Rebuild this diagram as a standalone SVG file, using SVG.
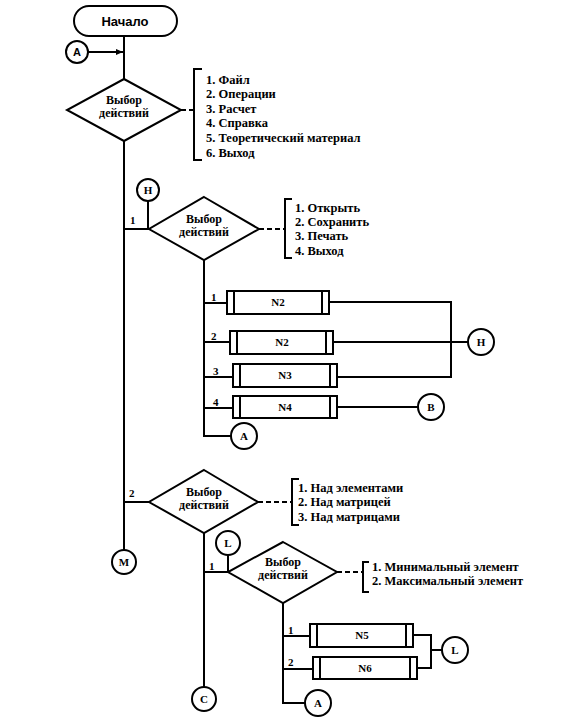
<svg xmlns="http://www.w3.org/2000/svg" width="571" height="721" viewBox="0 0 571 721">
<defs>
<style>
.ln{stroke:#000;stroke-width:2;fill:none}
.dash{stroke:#000;stroke-width:2;fill:none;stroke-dasharray:5,3}
.shape{stroke:#000;stroke-width:2;fill:#fff}
.t{font-family:"Liberation Serif","Times New Roman",serif;font-weight:bold;font-size:11px;fill:#000}
.d{font-size:12px}
.m{font-size:12.5px}
.c{text-anchor:middle}
.s{font-family:"Liberation Sans",Arial,sans-serif;font-weight:bold;fill:#000;text-anchor:middle}
</style>
<marker id="arr" markerWidth="8" markerHeight="8" refX="7" refY="4" orient="auto" markerUnits="userSpaceOnUse">
<path d="M0,1 L7,4 L0,7 Z" fill="#000"/>
</marker>
</defs>
<rect width="571" height="721" fill="#fff"/>
<g id="connectors">
<line class="ln" x1="124" y1="36" x2="124" y2="79"/>
<line class="ln" x1="88" y1="52" x2="123" y2="52" marker-end="url(#arr)"/>
<line class="ln" x1="124" y1="141" x2="124" y2="550"/>
<line class="dash" x1="181" y1="110" x2="194" y2="110"/>
<polyline class="ln" points="202,69 194,69 194,160 202,160"/>
<line class="ln" x1="124" y1="229" x2="149" y2="229"/>
<line class="ln" x1="148" y1="201" x2="148" y2="229"/>
<line class="dash" x1="259" y1="229" x2="285" y2="229"/>
<polyline class="ln" points="292,199 285,199 285,258 292,258"/>
<polyline class="ln" points="204,260 204,436 231,436"/>
<line class="ln" x1="204" y1="303" x2="227" y2="303"/>
<line class="ln" x1="204" y1="342" x2="230" y2="342"/>
<line class="ln" x1="204" y1="377" x2="233" y2="377"/>
<line class="ln" x1="204" y1="408" x2="233" y2="408"/>
<polyline class="ln" points="329,302 451,302 451,377 337,377"/>
<line class="ln" x1="333" y1="342" x2="468" y2="342"/>
<line class="ln" x1="337" y1="407" x2="418" y2="407"/>
<line class="ln" x1="124" y1="502" x2="149" y2="502"/>
<line class="dash" x1="258" y1="502" x2="292" y2="502"/>
<polyline class="ln" points="299,479 292,479 292,525 299,525"/>
<line class="ln" x1="204" y1="533" x2="204" y2="687"/>
<line class="ln" x1="204" y1="572" x2="228" y2="572"/>
<line class="ln" x1="228" y1="555" x2="228" y2="572"/>
<line class="dash" x1="337" y1="572" x2="363" y2="572"/>
<polyline class="ln" points="369,562 363,562 363,592 369,592"/>
<polyline class="ln" points="283,603 283,703 305,703"/>
<line class="ln" x1="283" y1="636" x2="310" y2="636"/>
<line class="ln" x1="283" y1="669" x2="313" y2="669"/>
<polyline class="ln" points="413,635 431,635 431,668 417,668"/>
<line class="ln" x1="431" y1="650" x2="442" y2="650"/>
</g>
<g id="labels">
<text class="t" x="130" y="224">1</text>
<text class="t" x="211" y="301">1</text>
<text class="t" x="211" y="340">2</text>
<text class="t" x="213" y="375">3</text>
<text class="t" x="213" y="406">4</text>
<text class="t" x="129" y="497">2</text>
<text class="t" x="209" y="570">1</text>
<text class="t" x="288" y="634">1</text>
<text class="t" x="288" y="666">2</text>
</g>
<g id="start">
<rect class="shape" x="74" y="6" width="103" height="30" rx="15"/>
<text class="s" x="125" y="26" font-size="13">Начало</text>
</g>
<g id="connA1">
<circle class="shape" cx="77" cy="52" r="11"/>
<text class="s" x="77" y="56" font-size="11">A</text>
</g>
<g id="decision1">
<polygon class="shape" points="124,79 181,110 124,141 67,110"/>
<text class="t d c" x="124" y="104">Выбор</text>
<text class="t d c" x="124" y="117">действий</text>
</g>
<g id="menu1">
<text class="t m" x="206" y="84">1. Файл</text>
<text class="t m" x="206" y="98">2. Операции</text>
<text class="t m" x="206" y="113">3. Расчет</text>
<text class="t m" x="206" y="127">4. Справка</text>
<text class="t m" x="206" y="142">5. Теоретический материал</text>
<text class="t m" x="206" y="157">6. Выход</text>
</g>
<g id="connH1">
<circle class="shape" cx="148" cy="190" r="11"/>
<text class="t c" x="148" y="194">H</text>
</g>
<g id="decision2">
<polygon class="shape" points="204,197 259,229 204,260 149,229"/>
<text class="t d c" x="204" y="223">Выбор</text>
<text class="t d c" x="204" y="236">действий</text>
</g>
<g id="menu2">
<text class="t m" x="295" y="212">1. Открыть</text>
<text class="t m" x="295" y="226">2. Сохранить</text>
<text class="t m" x="295" y="240">3. Печать</text>
<text class="t m" x="295" y="255">4. Выход</text>
</g>
<g id="procN2a">
<rect class="shape" x="227" y="291" width="102" height="23"/>
<line class="ln" x1="234" y1="291" x2="234" y2="314"/>
<line class="ln" x1="322" y1="291" x2="322" y2="314"/>
<text class="t c" x="278" y="306">N2</text>
</g>
<g id="procN2b">
<rect class="shape" x="230" y="331" width="103" height="23"/>
<line class="ln" x1="237" y1="331" x2="237" y2="354"/>
<line class="ln" x1="326" y1="331" x2="326" y2="354"/>
<text class="t c" x="282" y="346">N2</text>
</g>
<g id="procN3">
<rect class="shape" x="233" y="364" width="104" height="23"/>
<line class="ln" x1="240" y1="364" x2="240" y2="387"/>
<line class="ln" x1="330" y1="364" x2="330" y2="387"/>
<text class="t c" x="285" y="379">N3</text>
</g>
<g id="procN4">
<rect class="shape" x="233" y="396" width="104" height="22"/>
<line class="ln" x1="240" y1="396" x2="240" y2="418"/>
<line class="ln" x1="330" y1="396" x2="330" y2="418"/>
<text class="t c" x="285" y="411">N4</text>
</g>
<g id="connH2">
<circle class="shape" cx="481" cy="342" r="13"/>
<text class="t c" x="481" y="346">H</text>
</g>
<g id="connB">
<circle class="shape" cx="431" cy="407" r="13"/>
<text class="t c" x="431" y="411">B</text>
</g>
<g id="connA2">
<circle class="shape" cx="244" cy="436" r="13"/>
<text class="t c" x="244" y="440">A</text>
</g>
<g id="decision3">
<polygon class="shape" points="204,470 258,502 204,533 149,502"/>
<text class="t d c" x="204" y="496">Выбор</text>
<text class="t d c" x="204" y="509">действий</text>
</g>
<g id="menu3">
<text class="t m" x="298" y="492">1. Над элементами</text>
<text class="t m" x="298" y="506">2. Над матрицей</text>
<text class="t m" x="298" y="521">3. Над матрицами</text>
</g>
<g id="connM">
<circle class="shape" cx="124" cy="562" r="12"/>
<text class="t c" x="124" y="566">M</text>
</g>
<g id="connL1">
<circle class="shape" cx="228" cy="543" r="12"/>
<text class="t c" x="228" y="547">L</text>
</g>
<g id="decision4">
<polygon class="shape" points="283,542 337,572 283,603 228,572"/>
<text class="t d c" x="283" y="566">Выбор</text>
<text class="t d c" x="283" y="579">действий</text>
</g>
<g id="menu4">
<text class="t m" x="372" y="571">1. Минимальный элемент</text>
<text class="t m" x="372" y="585">2. Максимальный элемент</text>
</g>
<g id="procN5">
<rect class="shape" x="310" y="624" width="103" height="23"/>
<line class="ln" x1="317" y1="624" x2="317" y2="647"/>
<line class="ln" x1="406" y1="624" x2="406" y2="647"/>
<text class="t c" x="362" y="639">N5</text>
</g>
<g id="procN6">
<rect class="shape" x="313" y="657" width="104" height="22"/>
<line class="ln" x1="320" y1="657" x2="320" y2="679"/>
<line class="ln" x1="410" y1="657" x2="410" y2="679"/>
<text class="t c" x="365" y="672">N6</text>
</g>
<g id="connL2">
<circle class="shape" cx="455" cy="650" r="13"/>
<text class="t c" x="455" y="654">L</text>
</g>
<g id="connC">
<circle class="shape" cx="204" cy="699" r="12"/>
<text class="t c" x="204" y="703">C</text>
</g>
<g id="connA3">
<circle class="shape" cx="318" cy="703" r="13"/>
<text class="t c" x="318" y="707">A</text>
</g>
</svg>
